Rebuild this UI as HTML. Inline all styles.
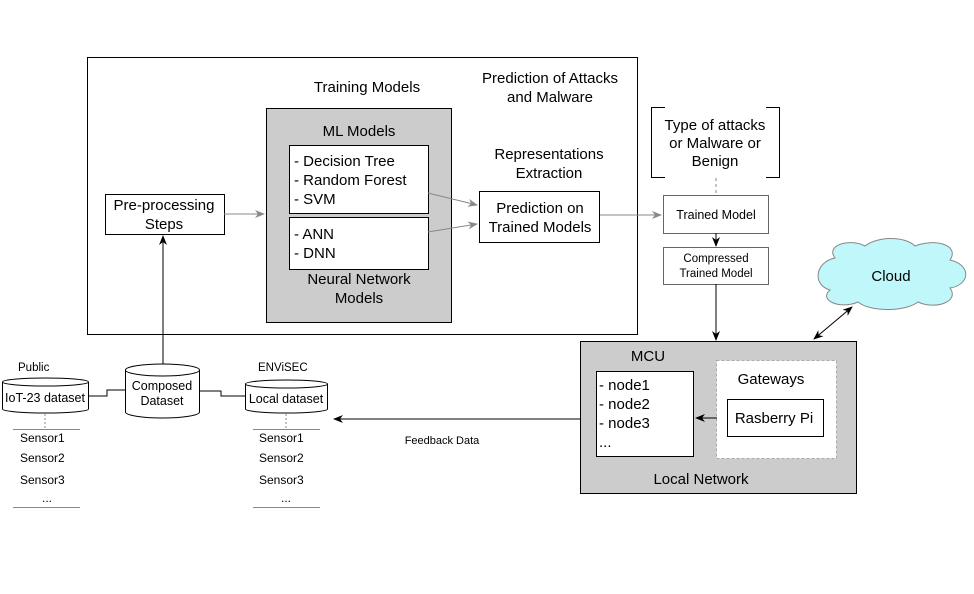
<!DOCTYPE html>
<html><head><meta charset="utf-8"><style>
html,body{margin:0;padding:0;background:#fff;}
svg{display:block;font-family:"Liberation Sans",Arial,sans-serif;}
</style></head><body>
<svg width="974" height="594" viewBox="0 0 974 594" xmlns="http://www.w3.org/2000/svg">
<defs>
<marker id="ab" markerWidth="10" markerHeight="8" refX="9" refY="4" orient="auto" markerUnits="userSpaceOnUse"><path d="M0,0 L10,4 L0,8 L3,4 z" fill="#000"/></marker>
<marker id="ag" markerWidth="10" markerHeight="8" refX="9" refY="4" orient="auto" markerUnits="userSpaceOnUse"><path d="M0,0 L10,4 L0,8 L3,4 z" fill="#888"/></marker>
<marker id="abs" markerWidth="10" markerHeight="8" refX="1" refY="4" orient="auto" markerUnits="userSpaceOnUse"><path d="M10,0 L0,4 L10,8 L7,4 z" fill="#000"/></marker>
</defs>
<rect width="974" height="594" fill="#fff"/>
<!-- main box -->
<rect x="87.5" y="57.5" width="550" height="277" fill="#fff" stroke="#000"/>
<text x="367" y="92" font-size="15" text-anchor="middle">Training Models</text>
<text x="550" y="83" font-size="15" text-anchor="middle">Prediction of Attacks</text>
<text x="550" y="102" font-size="15" text-anchor="middle">and Malware</text>
<rect x="266.5" y="108.5" width="185" height="214" fill="#ccc" stroke="#000"/>
<text x="359" y="136" font-size="15" text-anchor="middle">ML Models</text>
<rect x="289.5" y="145.5" width="139" height="68" fill="#fff" stroke="#000"/>
<text x="294" y="166" font-size="15">- Decision Tree</text>
<text x="294" y="185" font-size="15">- Random Forest</text>
<text x="294" y="204" font-size="15">- SVM</text>
<rect x="289.5" y="217.5" width="139" height="52" fill="#fff" stroke="#000"/>
<text x="294" y="239" font-size="15">- ANN</text>
<text x="294" y="258" font-size="15">- DNN</text>
<text x="359" y="284" font-size="15" text-anchor="middle">Neural Network</text>
<text x="359" y="303" font-size="15" text-anchor="middle">Models</text>
<rect x="105.5" y="194.5" width="119" height="40" fill="#fff" stroke="#000"/>
<text x="164" y="210" font-size="15" text-anchor="middle">Pre-processing</text>
<text x="164" y="229" font-size="15" text-anchor="middle">Steps</text>
<text x="549" y="159" font-size="15" text-anchor="middle">Representations</text>
<text x="549" y="178" font-size="15" text-anchor="middle">Extraction</text>
<rect x="479.5" y="191.5" width="120" height="51" fill="#fff" stroke="#000"/>
<text x="540" y="213" font-size="15" text-anchor="middle">Prediction on</text>
<text x="540" y="232" font-size="15" text-anchor="middle">Trained Models</text>
<line x1="224" y1="214" x2="264" y2="214" stroke="#888" marker-end="url(#ag)"/>
<line x1="428" y1="193" x2="477" y2="205" stroke="#888" marker-end="url(#ag)"/>
<line x1="428" y1="232" x2="477" y2="224" stroke="#888" marker-end="url(#ag)"/>
<line x1="600" y1="215" x2="661" y2="215" stroke="#888" marker-end="url(#ag)"/>
<!-- bracket -->
<path d="M665,107.5 H651.5 V177.5 H665 M766,107.5 H779.5 V177.5 H766" fill="none" stroke="#000"/>
<text x="715" y="130" font-size="15" text-anchor="middle">Type of attacks</text>
<text x="715" y="148" font-size="15" text-anchor="middle">or Malware or</text>
<text x="715" y="166" font-size="15" text-anchor="middle">Benign</text>
<line x1="716" y1="178" x2="716" y2="195" stroke="#888" stroke-dasharray="3,3"/>
<rect x="663.5" y="195.5" width="105" height="38" fill="#fff" stroke="#666"/>
<text x="716" y="219" font-size="12.5" text-anchor="middle">Trained Model</text>
<line x1="716" y1="233" x2="716" y2="246" stroke="#000" marker-end="url(#ab)"/>
<rect x="663.5" y="247.5" width="105" height="37" fill="#fff" stroke="#666"/>
<text x="716" y="262" font-size="11.5" text-anchor="middle">Compressed</text>
<text x="716" y="277" font-size="11.5" text-anchor="middle">Trained Model</text>
<line x1="716" y1="284" x2="716" y2="340" stroke="#000" marker-end="url(#ab)"/>
<!-- cloud -->
<path d="M835,258 C825,245 850,238 865,246 C878,236 905,236 915,246 C935,238 960,245 950,260 C972,265 970,285 950,288 C960,302 935,310 918,302 C905,312 870,312 858,302 C840,310 818,300 830,290 C812,285 815,262 835,258 Z" fill="#bff7fa" stroke="#888"/>
<text x="891" y="281" font-size="15" text-anchor="middle">Cloud</text>
<line x1="814" y1="339" x2="852" y2="307" stroke="#000" marker-end="url(#ab)" marker-start="url(#abs)"/>
<!-- MCU -->
<rect x="580.5" y="341.5" width="276" height="152" fill="#ccc" stroke="#000"/>
<text x="648" y="361" font-size="15" text-anchor="middle">MCU</text>
<rect x="596.5" y="371.5" width="97" height="85" fill="#fff" stroke="#000"/>
<text x="599" y="390" font-size="15">- node1</text>
<text x="599" y="409" font-size="15">- node2</text>
<text x="599" y="428" font-size="15">- node3</text>
<text x="599" y="447" font-size="15">...</text>
<rect x="716.5" y="360.5" width="120" height="98" fill="#fff" stroke="#aaa" stroke-dasharray="3,2"/>
<text x="771" y="384" font-size="15" text-anchor="middle">Gateways</text>
<rect x="727.5" y="399.5" width="96" height="37" fill="#fff" stroke="#000"/>
<text x="774" y="423" font-size="15" text-anchor="middle">Rasberry Pi</text>
<line x1="717" y1="418" x2="696" y2="418" stroke="#000" marker-end="url(#ab)"/>
<text x="701" y="484" font-size="15" text-anchor="middle">Local Network</text>
<!-- feedback -->
<line x1="580" y1="419" x2="334" y2="419" stroke="#000" marker-end="url(#ab)"/>
<text x="442" y="444" font-size="11" text-anchor="middle">Feedback Data</text>
<!-- datasets -->
<line x1="163" y1="364" x2="163" y2="236" stroke="#000" marker-end="url(#ab)"/>
<path d="M88,396 H107 V390 H125" fill="none" stroke="#000"/>
<path d="M199,391 H221 V396 H245" fill="none" stroke="#000"/>
<text x="18" y="371" font-size="11.5">Public</text>
<path d="M2.5,382 V409 A43,4 0 0 0 88.5,409 V382" fill="#fff" stroke="#000"/>
<ellipse cx="45.5" cy="382" rx="43" ry="4" fill="#fff" stroke="#000"/>
<text x="45" y="402" font-size="12.5" text-anchor="middle">IoT-23 dataset</text>
<path d="M125.5,370 V412 A37,6 0 0 0 199.5,412 V370" fill="#fff" stroke="#000"/>
<ellipse cx="162.5" cy="370" rx="37" ry="6" fill="#fff" stroke="#000"/>
<text x="162" y="390" font-size="12.5" text-anchor="middle">Composed</text>
<text x="162" y="405" font-size="12.5" text-anchor="middle">Dataset</text>
<text x="258" y="371" font-size="11.5">ENViSEC</text>
<path d="M245.5,384 V409 A41,4 0 0 0 327.5,409 V384" fill="#fff" stroke="#000"/>
<ellipse cx="286.5" cy="384" rx="41" ry="4" fill="#fff" stroke="#000"/>
<text x="286" y="403" font-size="12.5" text-anchor="middle">Local dataset</text>
<line x1="45" y1="414" x2="45" y2="429" stroke="#888" stroke-dasharray="2,2"/>
<line x1="286" y1="414" x2="286" y2="429" stroke="#888" stroke-dasharray="2,2"/>
<line x1="13" y1="429.5" x2="80" y2="429.5" stroke="#888"/>
<line x1="13" y1="507.5" x2="80" y2="507.5" stroke="#888"/>
<line x1="253" y1="429.5" x2="320" y2="429.5" stroke="#888"/>
<line x1="253" y1="507.5" x2="320" y2="507.5" stroke="#888"/>
<g font-size="12">
<text x="20" y="442">Sensor1</text><text x="20" y="462">Sensor2</text><text x="20" y="484">Sensor3</text><text x="42" y="502">...</text>
<text x="259" y="442">Sensor1</text><text x="259" y="462">Sensor2</text><text x="259" y="484">Sensor3</text><text x="281" y="502">...</text>
</g>
</svg>
</body></html>
